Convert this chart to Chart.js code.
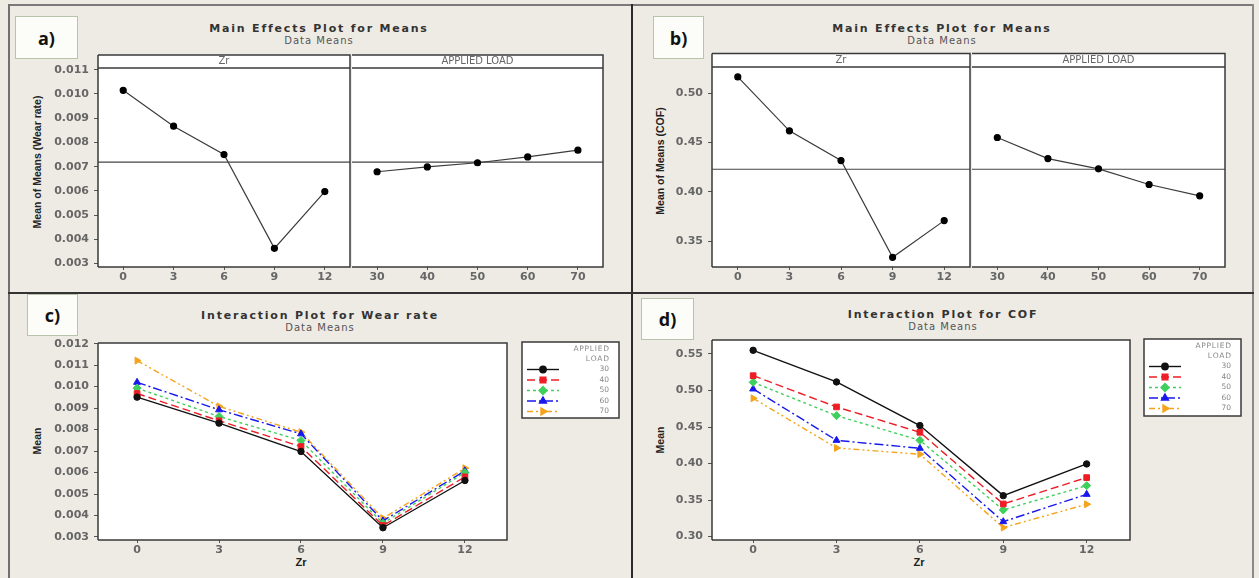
<!DOCTYPE html>
<html>
<head>
<meta charset="utf-8">
<script src="https://cdn.jsdelivr.net/npm/chart.js@4.4.1/dist/chart.umd.min.js"></script>
<style>
  body { margin: 0; background: #eeebe5; }
  #page { position: relative; width: 1259px; height: 578px; overflow: hidden; background: #eeebe5; }
  canvas { position: absolute; }
  .rule { position: absolute; }
  .tag { position: absolute; box-sizing: border-box; background: #fcfdf9; border: 1px solid #b7c3aa;
         font: bold 18px 'Open Sans', sans-serif; color: #111; display: flex; align-items: center; justify-content: center; }
  .ttl { position: absolute; transform: translate(-50%, -50%); white-space: nowrap;
         font: bold 11px 'DejaVu Sans', sans-serif; letter-spacing: 1.8px; color: #333; }
  .sub { position: absolute; transform: translate(-50%, -50%); white-space: nowrap;
         font: 10px 'DejaVu Sans', sans-serif; letter-spacing: 1px; color: #555; }
  .ylab { position: absolute; transform: translate(-50%, -50%) rotate(-90deg); white-space: nowrap;
          font: bold 10.5px 'Liberation Sans', sans-serif; color: #222; }
  .xlab { position: absolute; transform: translate(-50%, -50%); white-space: nowrap;
          font: bold 11px 'Liberation Sans', sans-serif; color: #222; }
</style>
</head>
<body>
<div id="page">
  <!-- panel borders -->
  <div class="rule" style="left:8px;top:4px;width:1246px;height:2px;background:#7a7a7a"></div>
  <div class="rule" style="left:8px;top:4px;width:2px;height:574px;background:#707070"></div>
  <div class="rule" style="left:1252px;top:4px;width:2px;height:574px;background:#8a8a8a"></div>
  <div class="rule" style="left:631px;top:4px;width:2px;height:574px;background:#2a2a2a"></div>
  <div class="rule" style="left:8px;top:292px;width:1246px;height:2px;background:#333"></div>

  <div class="tag" style="left:15px;top:16px;width:63px;height:43px">a)</div>
  <div class="tag" style="left:653px;top:16px;width:51px;height:43px">b)</div>
  <div class="tag" style="left:27px;top:294px;width:51px;height:42px">c)</div>
  <div class="tag" style="left:641px;top:298px;width:53px;height:42px">d)</div>

  <div class="ttl" style="left:319px;top:28px">Main Effects Plot for Means</div>
  <div class="sub" style="left:319px;top:40px">Data Means</div>
  <div class="ttl" style="left:942px;top:28px">Main Effects Plot for Means</div>
  <div class="sub" style="left:942px;top:40px">Data Means</div>
  <div class="ttl" style="left:320px;top:315px">Interaction Plot for Wear rate</div>
  <div class="sub" style="left:320px;top:327px">Data Means</div>
  <div class="ttl" style="left:943px;top:314px">Interaction Plot for COF</div>
  <div class="sub" style="left:943px;top:326px">Data Means</div>

  <div class="ylab" style="left:37px;top:162px">Mean of Means (Wear rate)</div>
  <div class="ylab" style="left:660px;top:161px">Mean of Means (COF)</div>
  <div class="ylab" style="left:37px;top:441px">Mean</div>
  <div class="ylab" style="left:660px;top:440px">Mean</div>
  <div class="xlab" style="left:301px;top:562px">Zr</div>
  <div class="xlab" style="left:919px;top:562px">Zr</div>
</div>

<script>
// factor levels
const zrLevels = [0, 3, 6, 9, 12];
const loadLevels = [30, 40, 50, 60, 70];

// main effects (means of means)
const wearByZr = [0.01015, 0.00867, 0.00750, 0.00363, 0.00597];
const wearByLoad = [0.00679, 0.00699, 0.00716, 0.00740, 0.00768];
const cofByZr = [0.5166, 0.4619, 0.4317, 0.3334, 0.3707];
const cofByLoad = [0.4551, 0.4337, 0.4233, 0.4074, 0.3959];

// interaction: wear rate per applied load, over Zr levels
const wear30 = [0.00951, 0.00830, 0.00698, 0.00343, 0.00563];
const wear40 = [0.00968, 0.00841, 0.00721, 0.00353, 0.00580];
const wear50 = [0.00993, 0.00861, 0.00749, 0.00364, 0.00600];
const wear60 = [0.01020, 0.00892, 0.00780, 0.00375, 0.00608];
const wear70 = [0.01121, 0.00908, 0.00788, 0.00387, 0.00620];

// interaction: COF per applied load, over Zr levels
const cof30 = [0.5550, 0.5117, 0.4520, 0.3561, 0.3995];
const cof40 = [0.5203, 0.4775, 0.4428, 0.3447, 0.3808];
const cof50 = [0.5112, 0.4656, 0.4318, 0.3365, 0.3698];
const cof60 = [0.5021, 0.4318, 0.4209, 0.3205, 0.3579];
const cof70 = [0.4893, 0.4214, 0.4127, 0.3124, 0.3443];

// tick labels
const wearMainTicks = [0.003, 0.004, 0.005, 0.006, 0.007, 0.008, 0.009, 0.010, 0.011];
const cofMainTicks = [0.35, 0.40, 0.45, 0.50];
const wearIntTicks = [0.003, 0.004, 0.005, 0.006, 0.007, 0.008, 0.009, 0.010, 0.011, 0.012];
const cofIntTicks = [0.30, 0.35, 0.40, 0.45, 0.50, 0.55];

const legendTitle = ['APPLIED', 'LOAD'];

const seriesStyle = [
  { color: '#111111', dash: [], point: 'circle', rot: 0, r: 3.2 },
  { color: '#ee1c24', dash: [8, 4], point: 'rect', rot: 0, r: 4 },
  { color: '#3fcf5c', dash: [3, 3], point: 'rectRot', rot: 0, r: 4 },
  { color: '#1818ee', dash: [9, 3, 2, 3], point: 'triangle', rot: 0, r: 4 },
  { color: '#f4a41c', dash: [6, 3, 2, 3, 2, 3], point: 'triangle', rot: 90, r: 4 }
];

const mean = arr => arr.reduce((s, v) => s + v, 0) / arr.length;

const tickFont = { family: "'DejaVu Sans', sans-serif", size: 11, weight: 'bold' };
const tickColor = '#666';

// frame, strip header, grand-mean line and legend
const panelPlugin = {
  id: 'panel',
  beforeDraw(chart, args, o) {
    const a = chart.chartArea, c = chart.ctx, s = o.strip || 0;
    c.save();
    c.fillStyle = '#ffffff';
    c.fillRect(a.left, a.top - s, a.right - a.left, a.bottom - a.top + s);
    c.restore();
  },
  beforeDatasetsDraw(chart, args, o) {
    if (o.refLine === undefined) return;
    const a = chart.chartArea, c = chart.ctx;
    const y = chart.scales.y.getPixelForValue(o.refLine);
    c.save();
    c.strokeStyle = '#444';
    c.lineWidth = 1.2;
    c.beginPath();
    c.moveTo(a.left, y);
    c.lineTo(a.right, y);
    c.stroke();
    c.restore();
  },
  afterDraw(chart, args, o) {
    const a = chart.chartArea, c = chart.ctx, s = o.strip || 0;
    c.save();
    c.strokeStyle = '#3a3a3a';
    c.lineWidth = 1.5;
    c.beginPath();
    if (!o.noLeft) {
      c.moveTo(a.left, a.top - s);
      c.lineTo(a.left, a.bottom);
    }
    c.moveTo(a.left, a.bottom);
    c.lineTo(a.right, a.bottom);
    c.lineTo(a.right, a.top - s);
    c.lineTo(a.left, a.top - s);
    c.stroke();
    if (s) {
      c.beginPath();
      c.moveTo(a.left, a.top);
      c.lineTo(a.right, a.top);
      c.stroke();
      c.fillStyle = '#666';
      c.font = "10px 'DejaVu Sans', sans-serif";
      c.textAlign = 'center';
      c.textBaseline = 'middle';
      c.fillText(o.stripLabel, (a.left + a.right) / 2, a.top - s / 2);
    }
    if (o.legend) {
      const L = o.legend;
      c.fillStyle = '#ffffff';
      c.fillRect(L.x, L.y, L.w, L.h);
      c.strokeStyle = '#3a3a3a';
      c.lineWidth = 1.5;
      c.strokeRect(L.x, L.y, L.w, L.h);
      c.font = "7.5px 'DejaVu Sans', sans-serif";
      c.textAlign = 'right';
      c.textBaseline = 'middle';
      c.fillStyle = '#888';
      const tx = L.x + L.w - 10;
      legendTitle.forEach((t, i) => c.fillText(t.split('').join(String.fromCharCode(8202)), tx, L.y + 7 + i * 10));
      chart.data.datasets.forEach((ds, i) => {
        const y = L.y + 27.5 + i * 10.5;
        const x0 = L.x + 5, x1 = L.x + 37;
        c.save();
        c.strokeStyle = ds.borderColor;
        c.lineWidth = 1.4;
        c.setLineDash(ds.borderDash || []);
        c.beginPath();
        c.moveTo(x0, y);
        c.lineTo(x1, y);
        c.stroke();
        c.setLineDash([]);
        c.fillStyle = ds.pointBackgroundColor;
        c.strokeStyle = ds.pointBorderColor;
        Chart.helpers.drawPoint(c, {
          pointStyle: ds.pointStyle, rotation: ds.pointRotation || 0,
          radius: ds.pointRadius, borderWidth: 1
        }, (x0 + x1) / 2, y);
        c.restore();
        c.fillStyle = '#888';
        c.fillText(ds.label, tx, y);
      });
    }
    c.restore();
  }
};

function makeChart(cv, area, xScale, yMin, yMax, yTicks, yDigits, showY, datasets, panelOpts) {
  const el = document.createElement('canvas');
  el.width = cv.w; el.height = cv.h;
  el.style.left = cv.x + 'px'; el.style.top = cv.y + 'px';
  el.style.width = cv.w + 'px'; el.style.height = cv.h + 'px';
  document.getElementById('page').appendChild(el);

  xScale.afterFit = s => {
    s.height = cv.y + cv.h - area.b;
    s.paddingLeft = 0;
    s.paddingRight = 0;
  };
  xScale.grid = { display: true, drawOnChartArea: false, drawTicks: true, tickLength: 3, color: '#555' };
  xScale.border = { display: false };
  xScale.ticks = Object.assign({ font: tickFont, color: tickColor, padding: 1, maxRotation: 0, autoSkip: false }, xScale.ticks || {});

  return new Chart(el, {
    type: 'line',
    data: { labels: xScale.labels, datasets: datasets },
    options: {
      responsive: false,
      animation: false,
      events: [],
      layout: {
        autoPadding: false,
        padding: {
          left: showY ? 0 : area.l - cv.x,
          right: cv.x + cv.w - area.r,
          top: area.t - cv.y,
          bottom: 0
        }
      },
      scales: {
        x: xScale,
        y: {
          display: showY,
          min: yMin,
          max: yMax,
          afterFit: s => { s.width = area.l - cv.x; },
          afterBuildTicks: s => { s.ticks = yTicks.map(v => ({ value: v })); },
          grid: { display: true, drawOnChartArea: false, drawTicks: true, tickLength: 4, color: '#555' },
          border: { display: false },
          ticks: { font: tickFont, color: tickColor, padding: 5, callback: v => Number(v).toFixed(yDigits) }
        }
      },
      plugins: {
        legend: { display: false },
        tooltip: { enabled: false },
        panel: panelOpts
      }
    },
    plugins: [panelPlugin]
  });
}

function mainSeries(values) {
  return [{
    data: values,
    borderColor: '#3c3c3c',
    borderWidth: 1.2,
    pointRadius: 3,
    pointBackgroundColor: '#000',
    pointBorderColor: '#000',
    tension: 0
  }];
}

function interactionSeries(rows) {
  return rows.map((vals, i) => {
    const st = seriesStyle[i];
    return {
      label: String(loadLevels[i]),
      data: zrLevels.map((z, k) => ({ x: z, y: vals[k] })),
      borderColor: st.color,
      borderDash: st.dash,
      borderWidth: 1.4,
      pointStyle: st.point,
      pointRotation: st.rot,
      pointRadius: st.r,
      pointBackgroundColor: st.color,
      pointBorderColor: st.color,
      pointBorderWidth: 1,
      tension: 0
    };
  });
}

const catAxis = levels => ({ type: 'category', labels: levels.map(String), offset: true });

// a) wear rate main effects
const wearMean = mean(wearByZr);
makeChart({ x: 10, y: 44, w: 344, h: 246 }, { l: 98, t: 68, r: 350, b: 267 },
  catAxis(zrLevels), 0.00286, 0.01107, wearMainTicks, 3, true,
  mainSeries(wearByZr), { strip: 13, stripLabel: 'Zr', refLine: wearMean });
makeChart({ x: 348, y: 44, w: 264, h: 246 }, { l: 350, t: 68, r: 603, b: 267 },
  catAxis(loadLevels), 0.00286, 0.01107, wearMainTicks, 3, false,
  mainSeries(wearByLoad), { strip: 13, stripLabel: 'APPLIED LOAD', refLine: wearMean, noLeft: true });

// b) COF main effects
const cofMean = mean(cofByZr);
makeChart({ x: 636, y: 44, w: 338, h: 246 }, { l: 712, t: 67, r: 970, b: 267 },
  catAxis(zrLevels), 0.3236, 0.5267, cofMainTicks, 2, true,
  mainSeries(cofByZr), { strip: 13.5, stripLabel: 'Zr', refLine: cofMean });
makeChart({ x: 968, y: 44, w: 270, h: 246 }, { l: 970, t: 67, r: 1225, b: 267 },
  catAxis(loadLevels), 0.3236, 0.5267, cofMainTicks, 2, false,
  mainSeries(cofByLoad), { strip: 13.5, stripLabel: 'APPLIED LOAD', refLine: cofMean, noLeft: true });

// c) interaction plot for wear rate
const linAxis = (min, max) => ({
  type: 'linear', min: min, max: max,
  afterBuildTicks: s => { s.ticks = zrLevels.map(v => ({ value: v })); }
});
makeChart({ x: 10, y: 296, w: 618, h: 280 }, { l: 98, t: 343, r: 507, b: 540 },
  linAxis(-1.43, 13.54), 0.00286, 0.01203, wearIntTicks, 3, true,
  interactionSeries([wear30, wear40, wear50, wear60, wear70]),
  { legend: { x: 522 - 10, y: 342 - 296, w: 97, h: 76 } });

// d) interaction plot for COF
makeChart({ x: 634, y: 296, w: 617, h: 280 }, { l: 712, t: 340, r: 1130, b: 540 },
  linAxis(-1.48, 13.56), 0.2954, 0.5691, cofIntTicks, 2, true,
  interactionSeries([cof30, cof40, cof50, cof60, cof70]),
  { legend: { x: 1144 - 634, y: 339 - 296, w: 97, h: 77 } });
</script>
</body>
</html>
